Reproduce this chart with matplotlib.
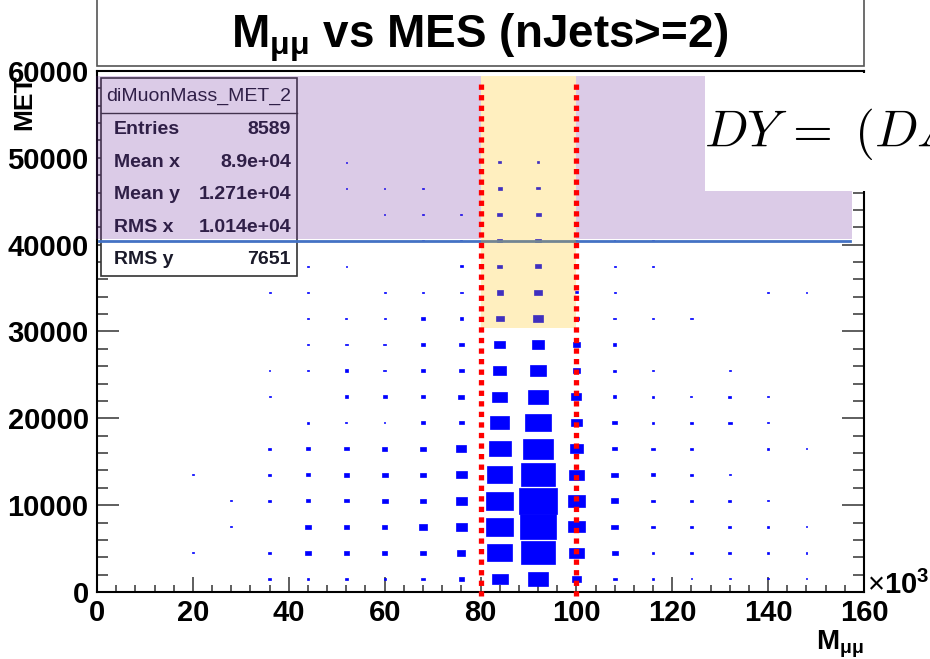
import numpy as np
import matplotlib
matplotlib.use('Agg')
import matplotlib.pyplot as plt
from matplotlib.patches import Rectangle, Polygon
from matplotlib.ticker import MultipleLocator, FuncFormatter

plt.rcParams['font.family'] = 'Liberation Sans'
plt.rcParams['mathtext.fontset'] = 'custom'
plt.rcParams['mathtext.rm'] = 'Liberation Sans'
plt.rcParams['mathtext.bf'] = 'Liberation Sans:bold'
plt.rcParams['mathtext.it'] = 'Liberation Sans:italic'

# TH2 binning (MeV)
x_edges = np.arange(0, 160001, 8000)
y_edges = np.arange(0, 60001, 3000)

# box size of each bin in % of the biggest one
# one list per x bin (4k, 12k, ... 156k), bottom y bin first
box_pct = [
    [],
    [],
    [0, 4, 0, 0, 4],
    [0, 0, 4, 4],
    [6, 9, 0, 7, 6, 6, 0, 5, 4, 0, 0, 5],
    [5, 14, 17, 12, 12, 10, 7, 0, 7, 6, 5, 5, 4],
    [9, 14, 14, 12, 14, 12, 5, 9, 9, 7, 5, 0, 4, 0, 0, 4, 4],
    [5, 14, 14, 16, 16, 14, 4, 10, 7, 6, 5, 5, 0, 0, 4, 4],
    [9, 16, 21, 16, 17, 17, 12, 10, 10, 10, 9, 7, 0, 4, 4, 4],
    [14, 21, 28, 29, 27, 26, 14, 16, 14, 14, 9, 7, 7, 5, 5],
    [42, 65, 70, 69, 64, 57, 49, 38, 33, 28, 20, 16, 14, 12, 13, 10, 9],
    [52, 88, 96, 100, 90, 76, 67, 53, 43, 33, 28, 21, 15, 14, 13, 9, 7],
    [23, 39, 43, 44, 38, 35, 29, 26, 19, 18, 12, 8, 7, 5, 5],
    [10, 16, 18, 18, 17, 13, 13, 9, 8, 8, 7, 5, 5, 4],
    [7, 7, 9, 9, 12, 9, 7, 7, 7, 0, 5, 0, 5, 4],
    [4, 7, 7, 7, 7, 7, 9, 5, 0, 0, 7],
    [4, 7, 7, 7, 4, 0, 9, 7, 6],
    [4, 7, 5, 5, 0, 7, 4, 6, 0, 0, 0, 4],
    [4, 5, 4, 0, 0, 4, 0, 0, 0, 0, 0, 4],
    [],
]

stat_labels = ['Entries', 'Mean x', 'Mean y', 'RMS x', 'RMS y']
stat_values = ['8589', '8.9e+04', '1.271e+04', '1.014e+04', '7651']

z_window = [80000, 100000]

fig = plt.figure(figsize=(9.3, 6.59), dpi=100)
ax = fig.add_axes([97/930, 67/659, 767/930, 521/659])

xc = (x_edges[:-1] + x_edges[1:]) / 2
yc = (y_edges[:-1] + y_edges[1:]) / 2
bw = x_edges[1] - x_edges[0]
bh = y_edges[1] - y_edges[0]

bx, by, bs = [], [], []
for i, col in enumerate(box_pct):
    for j, v in enumerate(col):
        if v > 0:
            bx.append(xc[i])
            by.append(yc[j])
            bs.append(v / 100.)
bx, by, bs = np.array(bx), np.array(by), np.array(bs)
ax.bar(bx, bs * bh, width=bs * bw, bottom=by - bs * bh / 2, color='blue',
       edgecolor='blue', linewidth=0.5, zorder=2)

ax.set_xlim(0, 160000)
ax.set_ylim(0, 60000)
ax.xaxis.set_major_locator(MultipleLocator(20000))
ax.xaxis.set_minor_locator(MultipleLocator(4000))
ax.yaxis.set_major_locator(MultipleLocator(10000))
ax.yaxis.set_minor_locator(MultipleLocator(2000))
ax.xaxis.set_major_formatter(FuncFormatter(lambda v, p: '%d' % (v / 1000)))
ax.yaxis.set_major_formatter(FuncFormatter(lambda v, p: '%d' % v))
ax.tick_params(axis='y', which='both', direction='in', right=True, left=True,
               width=1.1, color='#333333', labelsize=21, pad=6)
ax.tick_params(axis='y', which='major', length=15.5)
ax.tick_params(axis='y', which='minor', length=7.8)
ax.tick_params(axis='x', which='both', direction='in', top=False,
               width=1.1, color='#333333', labelsize=21, pad=5)
ax.tick_params(axis='x', which='major', length=10.8)
ax.tick_params(axis='x', which='minor', length=5.4)
for lab in ax.get_xticklabels() + ax.get_yticklabels():
    lab.set_fontweight('bold')
for s in ax.spines.values():
    s.set_linewidth(1.5)

def axp(px, py):
    return ((px - 97) / 767., (592 - py) / 521.)

# stat box
x0, y0 = axp(101, 276)
x1, y1 = axp(297, 78)
ax.add_patch(Rectangle((x0, y0), x1 - x0, y1 - y0, transform=ax.transAxes,
                       facecolor='white', edgecolor='#333333', lw=1.2,
                       zorder=4, clip_on=False))
ax.plot([x0, x1], [axp(0, 113)[1]] * 2, transform=ax.transAxes, color='#333333',
        lw=1.0, zorder=4.2, clip_on=False)
ax.text(*axp(199, 96), 'diMuonMass_MET_2', transform=ax.transAxes, fontsize=14,
        ha='center', va='center', zorder=4.5, color='#1a1a2a')
for k, (lab, val) in enumerate(zip(stat_labels, stat_values)):
    py = 130 + k * 32.5
    ax.text(*axp(114, py), lab, transform=ax.transAxes, fontsize=14,
            fontweight='bold', ha='left', va='center', zorder=4.5, color='#1a1a2a')
    ax.text(*axp(291, py), val, transform=ax.transAxes, fontsize=14,
            fontweight='bold', ha='right', va='center', zorder=4.5, color='#1a1a2a')

# highlight overlays
ax.add_patch(Rectangle((-200, 40600), 80200, 18800, facecolor='#7030a0',
                       alpha=0.25, lw=0, zorder=5, clip_on=False))
ax.add_patch(Polygon([(100000, 59400), (126800, 59400), (126800, 46150),
                      (157500, 46150), (157500, 40600), (100000, 40600)],
                     closed=True, facecolor='#7030a0', alpha=0.25, lw=0,
                     zorder=5, clip_on=False))
ax.plot([500, 157000], [40450, 40450], color='#4472c4', lw=2.0, zorder=5.5,
        clip_on=False)
ax.add_patch(Rectangle((z_window[0], 30450), z_window[1] - z_window[0], 28950,
                       facecolor='#ffc000', alpha=0.25, lw=0, zorder=6,
                       clip_on=False))
for xv in z_window:
    ax.plot([xv, xv], [-500, 58900], color='red', lw=3.8, ls=(0, (1, 1)),
            zorder=7, clip_on=False)

ax.add_patch(Rectangle((126800, 46150), 80000, 13600, facecolor='white', lw=0,
                       zorder=8, clip_on=False))
ax.text(126600, 51300, r'$DY\,=\;(DA$', fontsize=37, math_fontfamily='cm',
        ha='left', va='baseline', zorder=9, clip_on=False)

# title box
fig.add_artist(Rectangle((97/930, 1 - 66/659), 767/930, 0.2,
                         transform=fig.transFigure, facecolor='white',
                         edgecolor='#555555', lw=1.2))
fig.text(480/930, 1 - 47/659, r'M$_{\mathbf{\mu\mu}}$ vs MES (nJets>=2)',
         fontsize=33, fontweight='bold', ha='center', va='baseline')

fig.text(864/930, 1 - 650/659, r'M$_{\mathbf{\mu\mu}}$', fontsize=20,
         fontweight='bold', ha='right', va='baseline')
fig.text(24/930, 1 - 74/659, 'MET', fontsize=19, fontweight='bold',
         rotation=90, ha='center', va='top')
fig.text(867/930, 1 - 594/659, r'$\times$10$^{\mathbf{3}}$', fontsize=21,
         fontweight='bold', ha='left', va='baseline')

fig.savefig('out.png', dpi=100)
